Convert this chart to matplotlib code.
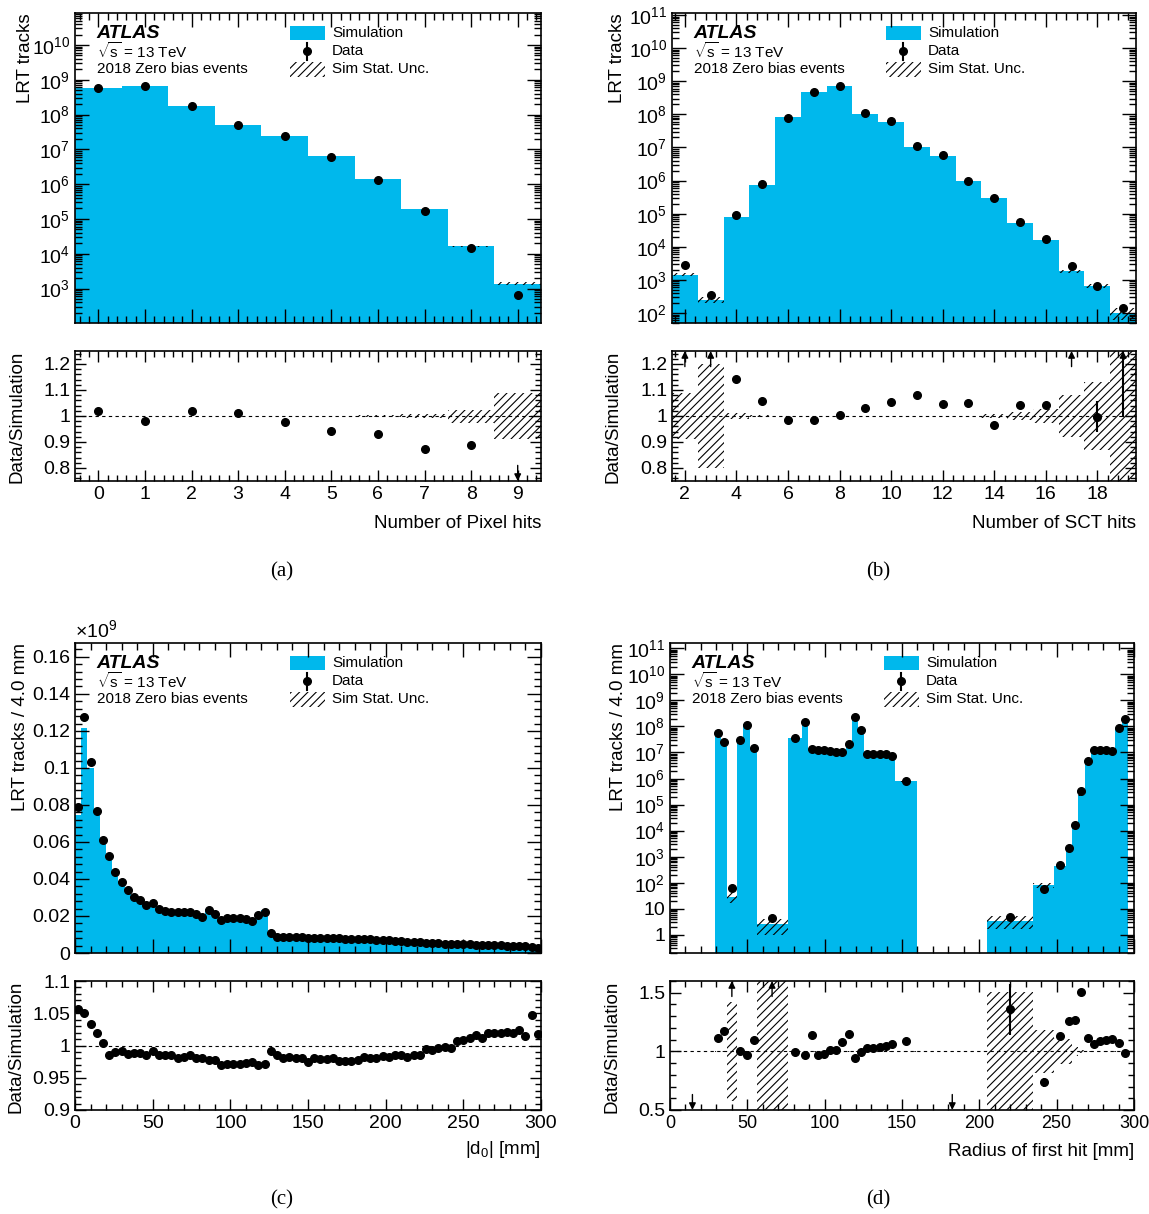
import numpy as np
import matplotlib
matplotlib.use("Agg")
import matplotlib.pyplot as plt
from matplotlib.patches import Rectangle
from matplotlib.ticker import MultipleLocator, LogLocator, FuncFormatter, NullFormatter

plt.rcParams["font.family"] = ["Liberation Sans", "DejaVu Sans"]
plt.rcParams["mathtext.fontset"] = "custom"
plt.rcParams["mathtext.rm"] = "Liberation Sans"
plt.rcParams["mathtext.it"] = "Liberation Sans:italic"
plt.rcParams["mathtext.bf"] = "Liberation Sans:bold"
plt.rcParams["hatch.linewidth"] = 0.8

BLUE = "#00b8ec"

# ---- (a) number of pixel hits ----
pix_edges = np.arange(-0.5, 10.5, 1.0)
pix_sim = np.array([5.8e8, 6.7e8, 1.78e8, 5.0e7, 2.4e7, 6.6e6, 1.4e6, 1.95e5, 1.65e4, 1.38e3])
pix_ratio = np.array([1.018, 0.980, 1.018, 1.011, 0.978, 0.942, 0.929, 0.874, 0.887, 0.46])
pix_unc = np.array([0.001, 0.001, 0.001, 0.001, 0.001, 0.0015, 0.002, 0.007, 0.025, 0.09])
pix_err = np.zeros(10)

# ---- (b) number of SCT hits ----
sct_edges = np.arange(1.5, 20.5, 1.0)
sct_sim = np.array([1.45e3, 251, 7.8e4, 7.2e5, 8.1e7, 4.8e8, 7.1e8, 1.05e8, 5.8e7,
                    1.05e7, 5.6e6, 9.5e5, 3.0e5, 5.3e4, 1.6e4, 1.8e3, 6.7e2, 1.0e2])
sct_ratio = np.array([1.9, 1.39, 1.141, 1.059, 0.986, 0.983, 1.004, 1.032, 1.053,
                      1.079, 1.047, 1.05, 0.964, 1.043, 1.042, 1.42, 0.997, 1.45])
sct_unc = np.array([0.09, 0.2, 0.013, 0.004, 0.0015, 0.0015, 0.0015, 0.0015, 0.0015,
                    0.0015, 0.0015, 0.0015, 0.006, 0.017, 0.028, 0.079, 0.13, 0.4])
sct_err = np.array([0, 0, 0, 0, 0, 0, 0, 0, 0, 0, 0, 0, 0, 0, 0, 0, 0.06, 0.45])

# ---- (c) |d0|, 4 mm bins, in units of 1e9 ----
d0_edges = np.arange(0, 304, 4.0)
d0_data = np.array([
    0.0788, 0.1275, 0.1032, 0.0768, 0.0613, 0.0525, 0.0436, 0.0384, 0.0341, 0.0305,
    0.0287, 0.0260, 0.0272, 0.0236, 0.0225, 0.0224, 0.0222, 0.0220, 0.0220, 0.0213,
    0.0197, 0.0234, 0.0211, 0.0180, 0.0189, 0.0191, 0.0191, 0.0182, 0.0171, 0.0204,
    0.0224, 0.0106, 0.0089, 0.0087, 0.0086, 0.0085, 0.0084, 0.0083, 0.0082, 0.0081,
    0.0081, 0.0080, 0.0079, 0.0078, 0.0077, 0.0076, 0.0075, 0.0073, 0.0072, 0.0070,
    0.0068, 0.0066, 0.0064, 0.0062, 0.0060, 0.0058, 0.0056, 0.0054, 0.0052, 0.0051,
    0.0049, 0.0048, 0.0047, 0.0046, 0.0045, 0.0044, 0.0043, 0.0042, 0.0041, 0.0040,
    0.0039, 0.0038, 0.0037, 0.0035, 0.0026])
d0_ratio = np.array([
    1.056, 1.051, 1.033, 1.020, 1.004, 0.985, 0.990, 0.991, 0.987, 0.988,
    0.988, 0.986, 0.991, 0.985, 0.985, 0.986, 0.980, 0.982, 0.985, 0.981,
    0.981, 0.977, 0.977, 0.970, 0.972, 0.971, 0.971, 0.973, 0.975, 0.970,
    0.972, 0.991, 0.985, 0.980, 0.982, 0.980, 0.980, 0.974, 0.980, 0.979,
    0.979, 0.980, 0.976, 0.976, 0.976, 0.977, 0.982, 0.981, 0.980, 0.984,
    0.982, 0.985, 0.985, 0.982, 0.985, 0.985, 0.994, 0.993, 0.996, 0.998,
    0.996, 1.007, 1.008, 1.012, 1.017, 1.012, 1.019, 1.019, 1.019, 1.021,
    1.020, 1.024, 1.015, 1.047, 1.018])

# ---- (d) radius of first hit, variable bins ----
rad_edges = np.array([0, 29, 33, 37, 43, 47.5, 52, 56, 76, 85.5,
                      89.5, 93.5, 97.5, 101.5, 105.5, 109.5, 113.5, 117.5, 121.5, 125.5,
                      129.5, 133.5, 137.5, 141.5, 145.5, 160, 205, 235, 248, 256,
                      260, 264, 268, 272, 276, 280, 284, 288, 292, 296])
rad_sim = np.array([0.05, 5.1e7, 2.2e7, 28, 2.95e7, 1.2e8, 1.34e7, 2.5, 3.7e7,
                    1.52e8, 1.21e7, 1.27e7, 1.23e7, 1.09e7, 9.9e6, 9.3e6, 1.9e7, 2.4e8, 7.3e7,
                    8.5e6, 8.5e6, 8.4e6, 8.1e6, 7.0e6, 7.7e5, 0.05, 3.5, 80, 434,
                    1770, 1.32e4, 2.24e5, 4.3e6, 1.16e7, 1.13e7, 1.13e7, 1.02e7, 8.3e7, 1.9e8])
rad_ratio = np.array([0, 1.114, 1.174, 2.2, 1.006, 0.966, 1.094, 1.84, 0.991,
                      0.969, 1.14, 0.966, 0.977, 1.009, 1.014, 1.077, 1.151, 0.94, 0.994,
                      1.026, 1.029, 1.034, 1.046, 1.063, 1.089, 0, 1.357, 0.737, 1.131,
                      1.26, 1.266, 1.51, 1.117, 1.06, 1.089, 1.094, 1.103, 1.074, 0.983])
rad_unc = np.array([0, 0.002, 0.003, 0.42, 0.002, 0.002, 0.003, 0.6, 0.002,
                    0.002, 0.002, 0.002, 0.002, 0.002, 0.002, 0.002, 0.002, 0.002, 0.002,
                    0.002, 0.002, 0.002, 0.002, 0.002, 0.004, 0, 0.51, 0.185, 0.11,
                    0.105, 0.037, 0.01, 0.003, 0.003, 0.003, 0.003, 0.003, 0.003, 0.003])
rad_err = np.zeros(len(rad_sim))
rad_err[26] = 0.22
rad_err[27] = 0.04


def log_fmt(v, pos):
    e = int(round(np.log10(v)))
    if e == 0:
        return "1"
    if e == 1:
        return "10"
    return r"$10^{%d}$" % e


def style(ax, major, minor):
    ax.tick_params(which="both", direction="in", top=True, right=True, labelsize=14)
    ax.tick_params(which="major", length=major, width=1)
    ax.tick_params(which="minor", length=minor, width=1)
    for s in ax.spines.values():
        s.set_linewidth(1.2)


def draw_main(ax, edges, sim, data, unc, log=True):
    centers = 0.5 * (edges[1:] + edges[:-1])
    widths = np.diff(edges)
    ax.stairs(sim, edges, baseline=1e-3 if log else 0, fill=True, color=BLUE, lw=0)
    m = unc > 0
    ax.bar(centers[m], 2 * unc[m] * sim[m], width=widths[m], bottom=sim[m] * (1 - unc[m]),
           fill=False, hatch="////", edgecolor="k", linewidth=0)
    d = data > 0
    ax.plot(centers[d], data[d], "o", color="k", ms=5.5)
    if log:
        ax.set_yscale("log")
        ax.yaxis.set_major_locator(LogLocator(base=10, numticks=30))
        ax.yaxis.set_minor_locator(LogLocator(base=10, subs=np.arange(2, 10), numticks=60))
        ax.yaxis.set_major_formatter(FuncFormatter(log_fmt))
        ax.yaxis.set_minor_formatter(NullFormatter())
    ax.tick_params(labelbottom=False)
    style(ax, 10, 5)


def draw_ratio(ax, edges, ratio, unc, err, ylo, yhi):
    centers = 0.5 * (edges[1:] + edges[:-1])
    widths = np.diff(edges)
    m = unc > 0
    ax.bar(centers[m], 2 * unc[m], width=widths[m], bottom=1 - unc[m],
           fill=False, hatch="////", edgecolor="k", linewidth=0)
    ax.axhline(1, color="k", ls=(0, (3, 3)), lw=0.8)
    inside = (ratio >= ylo) & (ratio <= yhi)
    ax.errorbar(centers[inside], ratio[inside], yerr=err[inside], fmt="o", color="k",
                ms=5.5, elinewidth=1.5, capsize=0)
    span = yhi - ylo
    for x, r, e in zip(centers[~inside], ratio[~inside], err[~inside]):
        if r > yhi:
            if e > 0:
                ax.plot([x, x], [r - e, yhi], color="k", lw=1.5)
            ax.annotate("", xy=(x, yhi), xytext=(x, yhi - 0.12 * span),
                        arrowprops=dict(arrowstyle="-|>", color="k", lw=1.0,
                                        mutation_scale=10, shrinkA=0, shrinkB=0))
        else:
            ax.annotate("", xy=(x, ylo), xytext=(x, ylo + 0.12 * span),
                        arrowprops=dict(arrowstyle="-|>", color="k", lw=1.0,
                                        mutation_scale=10, shrinkA=0, shrinkB=0))
    ax.set_ylim(ylo, yhi)
    ax.yaxis.set_major_formatter(FuncFormatter(lambda v, p: "%g" % round(v, 4)))
    style(ax, 8, 4)


def header(ax):
    t = ax.transAxes
    ax.text(0.047, 0.935, "ATLAS", transform=t, fontsize=14, fontweight="bold",
            fontstyle="italic", va="center")
    ax.text(0.047, 0.877, r"$\sqrt{\mathrm{s}}$ = 13 TeV", transform=t, fontsize=11,
            va="center")
    ax.text(0.047, 0.818, "2018 Zero bias events", transform=t, fontsize=11, va="center")
    rows = [0.935, 0.877, 0.818]
    ax.add_patch(Rectangle((0.461, rows[0] - 0.023), 0.075, 0.046, transform=t,
                           facecolor=BLUE, lw=0))
    ax.plot([0.4985, 0.4985], [rows[1] - 0.027, rows[1] + 0.027], transform=t,
            color="k", lw=1.5)
    ax.plot([0.4985], [rows[1]], "o", transform=t, color="k", ms=5.5)
    ax.add_patch(Rectangle((0.461, rows[2] - 0.023), 0.075, 0.046, transform=t,
                           fill=False, hatch="////", edgecolor="k", lw=0))
    for y, lab in zip(rows, ["Simulation", "Data", "Sim Stat. Unc."]):
        ax.text(0.552, y, lab, transform=t, fontsize=11, va="center")


W, H = 1149, 1214
fig = plt.figure(figsize=(W / 100, H / 100), dpi=100)


def frame(x0, x1, y0, y1):
    return fig.add_axes([x0 / W, 1 - y1 / H, (x1 - x0) / W, (y1 - y0) / H])


def ylabel(ax, text, x, top=1.0):
    ax.set_ylabel(text, fontsize=13.5, ha="right", va="center")
    ax.yaxis.set_label_coords(x, top)


def xlabel(ax, text, y):
    ax.set_xlabel(text, fontsize=13.5, ha="right", va="center")
    ax.xaxis.set_label_coords(1.0, y)


# (a)
ax = frame(75, 541, 13, 323)
draw_main(ax, pix_edges, pix_sim, pix_sim * pix_ratio, pix_unc)
header(ax)
ax.set_xlim(-0.5, 9.5)
ax.set_ylim(102, 8.3e10)
ax.xaxis.set_major_locator(MultipleLocator(1))
ax.xaxis.set_minor_locator(MultipleLocator(0.2))
ylabel(ax, "LRT tracks", -0.107)
ax = frame(75, 541, 351, 481)
draw_ratio(ax, pix_edges, pix_ratio, pix_unc, pix_err, 0.75, 1.25)
ax.set_xlim(-0.5, 9.5)
ax.xaxis.set_major_locator(MultipleLocator(1))
ax.xaxis.set_minor_locator(MultipleLocator(0.2))
ax.yaxis.set_major_locator(MultipleLocator(0.1))
ax.yaxis.set_minor_locator(MultipleLocator(0.02))
ylabel(ax, "Data/Simulation", -0.125, 1.0)
xlabel(ax, "Number of Pixel hits", -0.33)

# (b)
ax = frame(672, 1136, 13, 323)
draw_main(ax, sct_edges, sct_sim, sct_sim * sct_ratio, sct_unc)
header(ax)
ax.set_xlim(1.5, 19.5)
ax.set_ylim(50, 1.15e11)
ax.xaxis.set_major_locator(MultipleLocator(2))
ax.xaxis.set_minor_locator(MultipleLocator(0.4))
ylabel(ax, "LRT tracks", -0.117)
ax = frame(672, 1136, 351, 481)
draw_ratio(ax, sct_edges, sct_ratio, sct_unc, sct_err, 0.75, 1.25)
ax.set_xlim(1.5, 19.5)
ax.xaxis.set_major_locator(MultipleLocator(2))
ax.xaxis.set_minor_locator(MultipleLocator(0.4))
ax.yaxis.set_major_locator(MultipleLocator(0.1))
ax.yaxis.set_minor_locator(MultipleLocator(0.02))
ylabel(ax, "Data/Simulation", -0.128, 1.0)
xlabel(ax, "Number of SCT hits", -0.33)

# (c)
ax = frame(75, 541, 643, 953)
draw_main(ax, d0_edges, d0_data / d0_ratio, d0_data, np.zeros(len(d0_data)), log=False)
header(ax)
ax.set_xlim(0, 300)
ax.set_ylim(0, 0.1675)
ax.xaxis.set_major_locator(MultipleLocator(50))
ax.xaxis.set_minor_locator(MultipleLocator(10))
ax.yaxis.set_major_locator(MultipleLocator(0.02))
ax.yaxis.set_minor_locator(MultipleLocator(0.004))
ax.yaxis.set_major_formatter(FuncFormatter(lambda v, p: "%g" % round(v, 4)))
ax.text(0.0, 1.005, r"$\times10^{9}$", transform=ax.transAxes, fontsize=14,
        ha="left", va="bottom")
ylabel(ax, "LRT tracks / 4.0 mm", -0.116)
ax = frame(75, 541, 981, 1110)
draw_ratio(ax, d0_edges, d0_ratio, np.zeros(len(d0_ratio)), np.zeros(len(d0_ratio)), 0.9, 1.1)
ax.set_xlim(0, 300)
ax.xaxis.set_major_locator(MultipleLocator(50))
ax.xaxis.set_minor_locator(MultipleLocator(10))
ax.yaxis.set_major_locator(MultipleLocator(0.05))
ax.yaxis.set_minor_locator(MultipleLocator(0.01))
ylabel(ax, "Data/Simulation", -0.127, 1.0)
xlabel(ax, r"|d$_0$| [mm]", -0.31)

# (d)
ax = frame(670, 1134, 643, 953)
draw_main(ax, rad_edges, rad_sim, rad_sim * rad_ratio, rad_unc)
header(ax)
ax.set_xlim(0, 300)
ax.set_ylim(0.2, 1.6e11)
ax.xaxis.set_major_locator(MultipleLocator(50))
ax.xaxis.set_minor_locator(MultipleLocator(10))
ylabel(ax, "LRT tracks / 4.0 mm", -0.112)
ax = frame(670, 1134, 981, 1110)
draw_ratio(ax, rad_edges, rad_ratio, rad_unc, rad_err, 0.5, 1.6)
ax.set_xlim(0, 300)
ax.xaxis.set_major_locator(MultipleLocator(50))
ax.xaxis.set_minor_locator(MultipleLocator(10))
ax.yaxis.set_major_locator(MultipleLocator(0.5))
ax.yaxis.set_minor_locator(MultipleLocator(0.1))
ax.tick_params(axis="x", labelsize=13)
ylabel(ax, "Data/Simulation", -0.125, 1.0)
xlabel(ax, "Radius of first hit [mm]", -0.32)

for lab, x, y in [("(a)", 282, 572), ("(b)", 878, 572), ("(c)", 282, 1200), ("(d)", 878, 1200)]:
    fig.text(x / W, 1 - y / H, lab, family="Liberation Serif", fontsize=15,
             ha="center", va="center")

fig.savefig("out.png", dpi=100)
